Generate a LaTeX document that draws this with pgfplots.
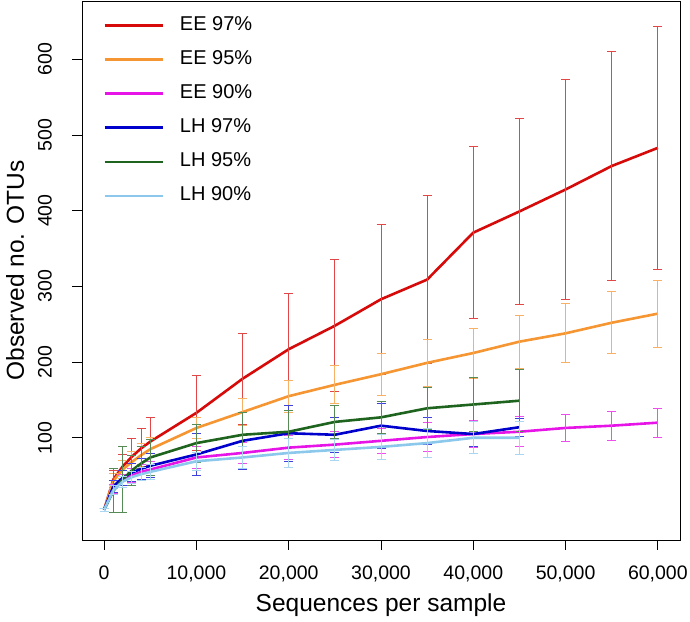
\documentclass[border=0pt]{standalone}
\usepackage{pgfplots}
\pgfplotsset{compat=1.18}
\usepackage{pgfplotstable}
\usepackage{fontspec}
\setmainfont{Liberation Sans}
\definecolor{cEE97}{RGB}{215,10,10}
\definecolor{cEE95}{RGB}{245,150,50}
\definecolor{cEE90}{RGB}{230,20,230}
\definecolor{cLH97}{RGB}{0,0,205}
\definecolor{cLH95}{RGB}{30,100,30}
\definecolor{cLH90}{RGB}{140,200,235}

\pgfplotstableread{
x y e
0 5 2
1000 45 12
2000 62 16
3000 75 24
4000 86 27
5000 95 32
10000 133 50
15000 178 60
20000 217 74
25000 248 87
30000 283 99
35000 309 111
40000 371 114
45000 399 123
50000 428 145
55000 459 151
60000 483 160
}\tEEa
\pgfplotstableread{
x y e
0 5 2
1000 43 10
2000 58 12
3000 68 14
4000 77 15
5000 85 16
10000 113 14
15000 134 18
20000 155 21
25000 170 25
30000 184 28
35000 199 31
40000 212 33
45000 227 35
50000 238 39
55000 252 41
60000 264 44
}\tEEb
\pgfplotstableread{
x y e
0 5 2
1000 33 6
2000 43 8
3000 50 9
4000 55 10
5000 58 11
10000 74 14
15000 80 14
20000 87 16
25000 91 17
30000 96 17
35000 101 19
40000 105 18
45000 108 20
50000 113 18
55000 116 19
60000 120 19
}\tEEc
\pgfplotstableread{
x y e
0 5 2
1000 36 8
2000 47 10
3000 54 12
4000 59 14
5000 63 16
10000 78 28
15000 96 38
20000 106 37
25000 104 23
30000 116 30
35000 109 18
40000 105 17
45000 114 12
}\tLHa
\pgfplotstableread{
x y e
0 5 2
1000 30 29
2000 45 43
3000 57 20
4000 66 22
5000 74 24
10000 93 25
15000 104 30
20000 108 28
25000 121 22
30000 127 21
35000 139 28
40000 144 36
45000 149 41
}\tLHb
\pgfplotstableread{
x y e
0 5 2
1000 31 6
2000 42 7
3000 48 8
4000 52 9
5000 55 10
10000 69 12
15000 74 14
20000 80 19
25000 84 14
30000 88 16
35000 93 19
40000 100 21
45000 100 22
}\tLHc

\begin{document}
\begin{tikzpicture}
\begin{axis}[
  name=ax,
  scale only axis,
  width=598pt, height=539pt,
  xmin=-2400, xmax=62400,
  ymin=-35, ymax=677,
  axis line style={black, line width=0.9pt},
  tick pos=left,
  tick align=outside,
  major tick length=10pt,
  tick style={black, line width=0.9pt},
  scaled x ticks=false,
  scaled y ticks=false,
  xtick={0,10000,20000,30000,40000,50000,60000},
  xticklabels={0,{10,000},{20,000},{30,000},{40,000},{50,000},{60,000}},
  ytick={100,200,300,400,500,600},
  yticklabels={100,200,300,400,500,600},
  ticklabel style={font=\fontsize{19.5pt}{22pt}\selectfont},
  xticklabel style={anchor=north, inner sep=0pt, yshift=-16pt},
  yticklabel style={rotate=90, anchor=south, inner sep=0pt, yshift=20pt},
  xlabel={Sequences per sample},
  ylabel={Observed no. OTUs},
  label style={font=\fontsize{24.5pt}{28pt}\selectfont},
  xlabel style={at={(axis description cs:0.5,0)}, anchor=base, yshift=-72pt},
  ylabel style={at={(axis description cs:0,0.5)}, anchor=base, rotate=0, yshift=58pt},
  legend style={draw=none, fill=none, at={(rel axis cs:0.035,0.971)}, anchor=north west,
    inner sep=0pt, row sep=16.6pt,
    font=\fontsize{20pt}{22pt}\selectfont,
    nodes={inner sep=0pt, text height=13.5pt, text depth=4pt},
    /tikz/every odd column/.append style={column sep=16pt}},
  legend cell align=left,
  legend image code/.code={\draw[#1, line width=2.8pt] (0pt,0pt) -- (58pt,0pt);},
  every axis plot/.append style={line width=2.6pt, mark=none},
  error bars/y dir=both,
  error bars/y explicit,
]
\addplot[cEE97, error bars/error bar style={line width=0.9pt, cEE97!75!white}, error bars/error mark options={rotate=90, mark size=4.5pt, line width=0.9pt, cEE97!75!white}] table[x=x, y=y, y error=e] {\tEEa};
\addlegendentry{EE 97\%}
\addplot[cEE95, error bars/error bar style={line width=0.9pt, cEE95!75!white}, error bars/error mark options={rotate=90, mark size=4.5pt, line width=0.9pt, cEE95!75!white}] table[x=x, y=y, y error=e] {\tEEb};
\addlegendentry{EE 95\%}
\addplot[cEE90, error bars/error bar style={line width=0.9pt, cEE90!75!white}, error bars/error mark options={rotate=90, mark size=4.5pt, line width=0.9pt, cEE90!75!white}] table[x=x, y=y, y error=e] {\tEEc};
\addlegendentry{EE 90\%}
\addplot[cLH97, error bars/error bar style={line width=0.9pt, cLH97!75!white}, error bars/error mark options={rotate=90, mark size=4.5pt, line width=0.9pt, cLH97!75!white}] table[x=x, y=y, y error=e] {\tLHa};
\addlegendentry{LH 97\%}
\addplot[cLH95, error bars/error bar style={line width=0.9pt, cLH95!75!white}, error bars/error mark options={rotate=90, mark size=4.5pt, line width=0.9pt, cLH95!75!white}] table[x=x, y=y, y error=e] {\tLHb};
\addlegendentry{LH 95\%}
\addplot[cLH90, error bars/error bar style={line width=0.9pt, cLH90!75!white}, error bars/error mark options={rotate=90, mark size=4.5pt, line width=0.9pt, cLH90!75!white}] table[x=x, y=y, y error=e] {\tLHc};
\addlegendentry{LH 90\%}
\end{axis}
\pgfresetboundingbox
\path ([shift={(-82pt,-82pt)}]ax.south west) rectangle ([shift={(10pt,1pt)}]ax.north east);
\end{tikzpicture}
\end{document}
